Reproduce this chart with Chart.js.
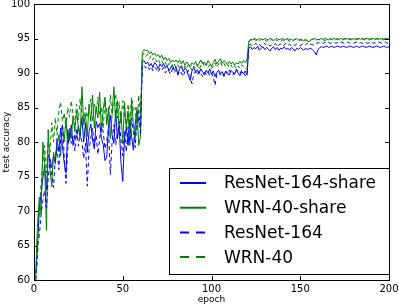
<!DOCTYPE html>
<html>
<head>
<meta charset="utf-8">
<script src="https://cdn.jsdelivr.net/npm/chart.js@4.4.1/dist/chart.umd.min.js"></script>
<style>
  html, body { margin: 0; padding: 0; background: #fff; }
  #wrap { position: relative; width: 399px; height: 306px; }
</style>
</head>
<body>
<div id="wrap"><canvas id="myChart" width="399" height="306"></canvas></div>
<script>
// epochs 1..200
const epochs = Array.from({ length: 200 }, (_, i) => i + 1);

const seriesNames = ['ResNet-164-share', 'WRN-40-share', 'ResNet-164', 'WRN-40'];
const xTicks = [0, 50, 100, 150, 200];
const yTicks = [60, 65, 70, 75, 80, 85, 90, 95, 100];

// test accuracy
const resnetShare = [
  60.5, 65.3, 70.2, 72.5, 74.8, 76.5, 73.0, 78.2, 77.5, 76.3,
  78.0, 77.2, 80.5, 78.6, 82.0, 79.5, 77.0, 75.5, 81.8, 80.2,
  82.5, 79.5, 81.0, 80.6, 82.3, 81.2, 83.5, 80.0, 82.8, 78.5,
  81.5, 82.6, 80.3, 79.0, 83.0, 82.1, 82.7, 80.5, 79.6, 77.3,
  77.8, 82.4, 83.9, 81.0, 79.8, 84.6, 80.4, 82.3, 77.0, 74.3,
  80.6, 82.0, 79.5, 83.2, 80.8, 78.8, 82.6, 84.5, 83.0, 82.0,
  91.6, 91.8, 91.3, 91.6, 91.0, 91.4, 90.8, 91.5, 91.2, 90.6,
  91.3, 90.9, 91.4, 90.7, 91.1, 90.3, 90.8, 91.2, 90.4, 90.9,
  89.8, 90.6, 91.0, 90.2, 90.7, 90.5, 89.6, 88.9, 90.3, 90.8,
  90.1, 90.5, 89.9, 90.6, 90.2, 89.7, 90.4, 90.0, 90.6, 89.8,
  90.3, 89.5, 90.1, 90.4, 89.9, 90.2, 89.6, 90.3, 90.0, 89.7,
  90.4, 90.1, 89.8, 90.5, 90.0, 89.6, 90.2, 89.9, 90.3, 89.7,
  93.6, 93.8, 93.4, 93.7, 93.5, 93.9, 93.3, 93.6, 93.8, 93.4,
  93.7, 93.5, 93.2, 93.6, 93.8, 93.4, 93.7, 93.3, 93.6, 93.5,
  93.8, 93.4, 93.6, 93.3, 93.7, 93.5, 93.2, 93.6, 93.4, 93.7,
  93.5, 93.3, 93.6, 93.4, 93.5, 93.6, 93.3, 93.1, 92.6, 93.4,
  93.7, 93.8, 93.7, 93.8, 93.9, 93.7, 93.8, 93.9, 93.7, 93.8,
  93.9, 93.8, 93.7, 93.9, 93.8, 93.7, 93.8, 93.9, 93.8, 93.7,
  93.8, 93.9, 93.7, 93.8, 93.9, 93.8, 93.7, 93.8, 93.9, 93.8,
  93.7, 93.8, 93.9, 93.8, 93.7, 93.8, 93.9, 93.8, 93.7, 93.8
];

const wrnShare = [
  61.0, 68.3, 72.0, 69.5, 80.0, 77.0, 67.2, 81.8, 76.0, 73.5,
  78.5, 76.8, 79.5, 81.0, 78.0, 82.5, 80.0, 83.5, 79.5, 82.0,
  80.5, 83.8, 81.5, 84.5, 82.0, 80.5, 88.0, 82.5, 84.0, 80.8,
  85.5, 83.0, 86.8, 82.0, 85.2, 83.5, 87.2, 81.5, 84.8, 86.5,
  82.5, 85.0, 80.5, 84.0, 88.0, 83.0, 86.0, 81.5, 84.5, 79.8,
  85.8, 82.0, 84.5, 79.5, 86.0, 82.5, 80.5, 85.0, 79.5, 80.8,
  93.0, 93.4, 93.2, 93.3, 92.8, 93.1, 92.6, 92.9, 92.4, 92.7,
  92.2, 92.6, 91.9, 92.3, 91.8, 92.1, 91.5, 91.9, 91.6, 91.9,
  91.5, 91.9, 91.3, 91.8, 91.1, 91.6, 91.3, 90.9, 91.5, 91.2,
  91.7, 91.0, 91.4, 91.9, 91.3, 91.6, 91.1, 91.8, 91.4, 90.9,
  91.5, 92.0, 91.3, 91.7, 92.1, 91.4, 91.8, 91.6, 91.2, 91.7,
  91.3, 91.6, 91.1, 91.5, 91.3, 91.7, 91.4, 91.8, 91.5, 91.9,
  94.6, 94.9, 94.8, 95.0, 94.9, 94.8, 95.0, 94.9, 94.8, 95.0,
  94.9, 94.8, 95.0, 94.9, 94.7, 94.9, 95.0, 94.8, 94.9, 95.0,
  94.8, 94.9, 95.0, 94.8, 94.9, 94.7, 94.9, 95.0, 94.8, 94.9,
  94.8, 94.7, 94.9, 94.6, 94.5, 94.8, 94.9, 95.0, 94.9, 94.8,
  94.9, 95.0, 94.9, 95.0, 94.9, 94.8, 95.0, 94.9, 95.0, 94.9,
  95.0, 94.9, 95.0, 94.9, 95.0, 95.0, 94.9, 95.0, 94.9, 95.0,
  94.9, 95.0, 95.0, 94.9, 95.0, 94.9, 95.0, 95.0, 94.9, 95.0,
  95.0, 94.9, 95.0, 95.0, 94.9, 95.0, 94.9, 95.0, 95.0, 94.9
];

const resnet = [
  60.0, 64.8, 66.5, 69.5, 71.5, 73.0, 70.5, 74.8, 77.5, 75.0,
  73.4, 77.8, 79.2, 76.0, 80.3, 82.6, 78.2, 74.0, 79.0, 81.5,
  79.8, 80.8, 78.7, 82.0, 79.4, 81.3, 80.0, 77.6, 79.8, 73.6,
  78.9, 80.6, 82.0, 79.3, 81.0, 78.2, 80.5, 82.7, 81.4, 79.0,
  80.2, 81.8, 75.3, 80.0, 82.5, 79.6, 81.2, 83.0, 80.4, 78.0,
  81.6, 78.6, 82.2, 80.0, 83.5, 81.4, 79.2, 83.0, 84.8, 81.0,
  91.0, 91.2, 90.7, 91.0, 90.5, 90.9, 90.3, 90.8, 90.6, 90.1,
  90.7, 90.4, 90.8, 90.0, 90.5, 90.2, 89.8, 90.6, 90.1, 90.4,
  89.7, 90.3, 90.0, 89.5, 90.2, 89.9, 90.4, 89.6, 88.4, 89.8,
  90.2, 89.7, 90.3, 89.9, 89.5, 90.1, 89.8, 90.2, 89.6, 90.0,
  89.4, 88.2, 89.9, 90.1, 89.7, 90.0, 89.5, 90.2, 89.8, 90.4,
  90.0, 89.7, 90.3, 90.6, 90.1, 89.9, 90.4, 90.0, 89.6, 89.8,
  94.0, 94.2, 93.9, 94.1, 94.3, 94.0, 94.2, 93.8, 94.1, 94.3,
  94.0, 94.2, 93.9, 94.1, 94.0, 94.3, 93.8, 94.1, 94.2, 93.9,
  94.1, 94.3, 94.0, 94.2, 93.9, 94.1, 94.0, 94.2, 94.1, 93.9,
  94.2, 94.0, 94.1, 94.3, 94.0, 94.2, 94.1, 94.0, 94.3, 94.4,
  94.3, 94.4, 94.3, 94.5, 94.3, 94.4, 94.3, 94.4, 94.5, 94.3,
  94.4, 94.3, 94.5, 94.4, 94.3, 94.4, 94.5, 94.3, 94.4, 94.3,
  94.4, 94.5, 94.3, 94.4, 94.3, 94.5, 94.4, 94.3, 94.4, 94.5,
  94.3, 94.4, 94.3, 94.5, 94.4, 94.3, 94.4, 94.5, 94.3, 94.4
];

const wrn = [
  60.0, 63.0, 70.5, 74.0, 77.0, 79.5, 75.5, 80.5, 78.5, 82.8,
  80.0, 83.5, 81.0, 84.5, 85.8, 83.0, 84.2, 82.0, 85.0, 83.6,
  86.0, 84.0, 82.5, 85.5, 83.2, 86.3, 84.0, 82.8, 85.0, 83.5,
  84.8, 86.2, 83.0, 85.5, 84.0, 86.5, 83.8, 85.0, 82.0, 86.0,
  84.5, 82.8, 86.8, 84.0, 85.5, 87.0, 83.5, 85.8, 82.5, 86.0,
  84.0, 82.0, 85.5, 83.0, 86.5, 84.5, 85.0, 81.5, 86.8, 84.0,
  92.5, 92.9, 92.4, 92.7, 92.1, 92.5, 91.9, 92.3, 91.6, 92.0,
  91.4, 91.8, 91.2, 91.6, 90.9, 91.4, 91.0, 90.6, 91.3, 90.8,
  91.2, 90.7, 91.1, 90.5, 91.0, 90.6, 91.3, 90.8, 90.4, 91.0,
  90.7, 91.2, 90.5, 91.1, 91.6, 90.9, 91.4, 90.8, 91.2, 90.6,
  91.0, 91.5, 90.8, 91.3, 91.7, 91.0, 91.4, 90.9, 91.3, 90.8,
  91.2, 90.7, 91.1, 90.6, 91.0, 90.7, 91.2, 90.9, 90.5, 90.8,
  94.5, 94.8, 94.6, 94.9, 94.7, 94.8, 94.6, 94.9, 94.7, 94.8,
  94.6, 94.8, 94.7, 94.9, 94.6, 94.8, 94.7, 94.9, 94.6, 94.8,
  94.7, 94.9, 94.8, 94.6, 94.8, 94.7, 94.9, 94.8, 94.6, 94.8,
  94.7, 94.5, 94.8, 94.7, 94.6, 94.8, 94.9, 94.8, 94.7, 94.9,
  94.8, 94.9, 94.8, 94.7, 94.9, 94.8, 94.9, 94.8, 94.9, 94.8,
  94.9, 94.8, 94.9, 94.8, 94.9, 94.9, 94.8, 94.9, 94.8, 94.9,
  94.8, 94.9, 94.9, 94.8, 94.9, 94.8, 94.9, 94.9, 94.8, 94.9,
  94.9, 94.8, 94.9, 94.9, 94.8, 94.9, 94.8, 94.9, 94.9, 94.8
];

const BLUE = 'rgb(0,0,255)';
const GREEN = 'rgb(0,128,0)';
const DASH = [4, 3];
const FONT = 'DejaVu Sans';

function makeSet(label, data, color, dashed, order) {
  return {
    label: label,
    data: data,
    borderColor: color,
    borderWidth: 1,
    borderDash: dashed ? DASH : [],
    pointRadius: 0,
    fill: false,
    tension: 0,
    order: order
  };
}

// frame, inward ticks on all four sides, and the legend box
const framePlugin = {
  id: 'frame',
  afterDraw(chart) {
    const ctx = chart.ctx;
    const a = chart.chartArea;
    const xs = chart.scales.x, ys = chart.scales.y;
    ctx.save();
    ctx.strokeStyle = '#000';
    ctx.lineWidth = 1;
    ctx.setLineDash([]);
    ctx.strokeRect(Math.round(a.left) + 0.5, Math.round(a.top) + 0.5,
      Math.round(a.right - a.left), Math.round(a.bottom - a.top));
    const tl = 4;
    ctx.beginPath();
    xTicks.forEach(v => {
      const px = Math.round(xs.getPixelForValue(v)) + 0.5;
      ctx.moveTo(px, a.bottom); ctx.lineTo(px, a.bottom - tl);
      ctx.moveTo(px, a.top); ctx.lineTo(px, a.top + tl);
    });
    yTicks.forEach(v => {
      const py = Math.round(ys.getPixelForValue(v)) + 0.5;
      ctx.moveTo(a.left, py); ctx.lineTo(a.left + tl, py);
      ctx.moveTo(a.right, py); ctx.lineTo(a.right - tl, py);
    });
    ctx.stroke();

    // legend
    const box = { l: a.left + 135, t: a.top + 164, r: a.right, b: a.bottom - 6 };
    ctx.fillStyle = '#fff';
    ctx.fillRect(box.l, box.t, box.r - box.l, box.b - box.t);
    ctx.strokeRect(Math.round(box.l) + 0.5, Math.round(box.t) + 0.5,
      Math.round(box.r - box.l), Math.round(box.b - box.t));
    const sets = chart.data.datasets;
    ctx.font = '17px "' + FONT + '"';
    ctx.textBaseline = 'middle';
    sets.forEach((ds, i) => {
      const y = box.t + 15 + i * 24.7;
      ctx.strokeStyle = ds.borderColor;
      ctx.lineWidth = 2;
      ctx.setLineDash(ds.borderDash.length ? [9, 7] : []);
      ctx.beginPath();
      ctx.moveTo(box.l + 11, y);
      ctx.lineTo(box.l + 37, y);
      ctx.stroke();
      ctx.fillStyle = '#000';
      ctx.fillText(ds.label, box.l + 55, y + 1);
    });
    ctx.restore();
  }
};

const ctx = document.getElementById('myChart');
const myChart = new Chart(ctx, {
  type: 'line',
  data: {
    labels: epochs,
    datasets: [
      makeSet(seriesNames[0], resnetShare, BLUE, false, 3),
      makeSet(seriesNames[1], wrnShare, GREEN, false, 2),
      makeSet(seriesNames[2], resnet, BLUE, true, 1),
      makeSet(seriesNames[3], wrn, GREEN, true, 0)
    ]
  },
  options: {
    responsive: false,
    animation: false,
    devicePixelRatio: 1,
    layout: { padding: { top: 4, right: 10, left: 0, bottom: 0 } },
    plugins: { legend: { display: false }, tooltip: { enabled: false } },
    scales: {
      x: {
        type: 'linear',
        min: 0, max: 200,
        afterFit: s => { s.height = 26; s.paddingLeft = 0; s.paddingRight = 0; },
        afterBuildTicks: s => { s.ticks = xTicks.map(v => ({ value: v })); },
        grid: { display: false, drawTicks: false },
        border: { display: false },
        ticks: { color: '#000', padding: 3, font: { family: FONT, size: 10 }, maxRotation: 0 },
        title: { display: true, text: 'epoch', color: '#000', font: { family: FONT, size: 9 }, padding: { top: 0, bottom: 1 } }
      },
      y: {
        min: 60, max: 100,
        afterFit: s => { s.width = 34; s.paddingTop = 0; s.paddingBottom = 0; },
        afterBuildTicks: s => { s.ticks = yTicks.map(v => ({ value: v })); },
        grid: { display: false, drawTicks: false },
        border: { display: false },
        ticks: { color: '#000', padding: 4, font: { family: FONT, size: 10 } },
        title: { display: true, text: 'test accuracy', color: '#000', font: { family: FONT, size: 9 }, padding: { top: 1, bottom: 0 } }
      }
    }
  },
  plugins: [framePlugin]
});
</script>
</body>
</html>
